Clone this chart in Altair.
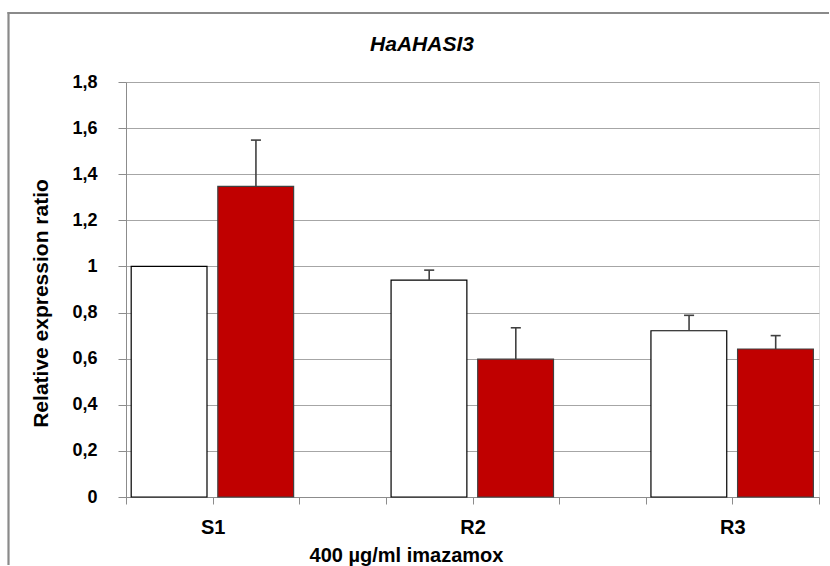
import altair as alt
import pandas as pd

# ---- data ----
groups = ["S1", "S1", "R2", "R2", "R3", "R3"]
series = ["control", "treated", "control", "treated", "control", "treated"]
slots = [0, 1, 3, 4, 6, 7]
values = [1.0, 1.347, 0.941, 0.598, 0.721, 0.642]
errors = [0.0, 0.201, 0.043, 0.136, 0.067, 0.058]
tick_labels = {1: "S1", 4: "R2", 7: "R3"}
chart_title = "HaAHASI3"
x_title = "400 µg/ml imazamox"
y_title = "Relative expression ratio"

FONT = "Liberation Sans"

df = pd.DataFrame({
    "group": groups,
    "series": series,
    "slot": slots,
    "value": values,
    "err": errors,
})
df["x0"] = df["slot"] + 0.06
df["x1"] = df["slot"] + 0.935
df["cx"] = df["slot"] + 0.5
df["cl"] = df["cx"] - 0.058
df["cr"] = df["cx"] + 0.058
df["top"] = df["value"] + df["err"]

xscale = alt.Scale(domain=[0, 8], nice=False, zero=False)
yscale = alt.Scale(domain=[0, 1.8], nice=False)

label_expr = " : ".join(
    f"datum.value == {k} ? '{v}'" for k, v in tick_labels.items()
) + " : ''"

xaxis = alt.Axis(
    values=list(range(0, 9)),
    labelExpr=label_expr,
    grid=False,
    tickSize=7,
    tickColor="#8c8c8c",
    domainColor="#8c8c8c",
    labelFont=FONT,
    labelFontSize=20,
    labelFontWeight="bold",
    labelColor="#000000",
    labelPadding=13,
    title=x_title,
    titleFont=FONT,
    titleFontSize=20,
    titleFontWeight="bold",
    titleColor="#000000",
    titleX=280,
    titleY=64,
    titleBaseline="alphabetic",
)

yaxis = alt.Axis(
    values=[0, 0.2, 0.4, 0.6, 0.8, 1.0, 1.2, 1.4, 1.6, 1.8],
    labelExpr="replace(format(datum.value, '.1~f'), '.', ',')",
    grid=True,
    gridColor="#a6a6a6",
    gridWidth=1,
    tickSize=8,
    tickColor="#8c8c8c",
    domainColor="#8c8c8c",
    labelFont=FONT,
    labelFontSize=18,
    labelFontWeight="bold",
    labelColor="#000000",
    labelPadding=21,
    title=y_title,
    titleFont=FONT,
    titleFontSize=21,
    titleFontWeight="bold",
    titleColor="#000000",
    titleX=-85,
    titleY=221,
    titleAngle=-90,
    titleBaseline="middle",
)

base = alt.Chart(df)

bars = base.mark_rect(strokeWidth=1.2).encode(
    x=alt.X("x0:Q", scale=xscale, axis=xaxis),
    x2="x1:Q",
    y=alt.Y("value:Q", scale=yscale, axis=yaxis),
    y2=alt.datum(0),
    fill=alt.Fill("series:N", scale=alt.Scale(domain=["control", "treated"], range=["#ffffff", "#c00000"]), legend=None),
    stroke=alt.Stroke("series:N", scale=alt.Scale(domain=["control", "treated"], range=["#000000", "#404040"]), legend=None),
)

err_df = df[df["err"] > 0]
err_base = alt.Chart(err_df)

stems = err_base.mark_rule(color="#404040", strokeWidth=1.6).encode(
    x="cx:Q",
    y="value:Q",
    y2="top:Q",
)
caps = err_base.mark_rule(color="#404040", strokeWidth=1.6).encode(
    x="cl:Q",
    x2="cr:Q",
    y="top:Q",
)

one = alt.Data(values=[{"t": chart_title}])

frame_top = alt.Chart(one).mark_rule(color="#8a8a8a", strokeWidth=2.2).encode(
    x=alt.value(-118.5),
    x2=alt.value(703),
    y=alt.value(-69),
)
frame_left = alt.Chart(one).mark_rule(color="#8a8a8a", strokeWidth=2.2).encode(
    x=alt.value(-117.5),
    y=alt.value(-70),
    y2=alt.value(483),
)

title = alt.Chart(one).mark_text(
    font=FONT, fontSize=21, fontWeight="bold", fontStyle="italic",
    color="#000000", align="center", baseline="middle",
).encode(
    x=alt.value(296),
    y=alt.value(-37),
    text="t:N",
)

chart = alt.layer(frame_top, frame_left, bars, stems, caps, title).properties(
    width=693,
    height=415,
    padding={"left": 126, "top": 82, "right": 11, "bottom": 69},
    autosize=alt.AutoSizeParams(type="none"),
).configure_view(stroke=None).configure(background="#ffffff")

chart.save("out.html", embed_options={"renderer": "svg", "actions": False})
